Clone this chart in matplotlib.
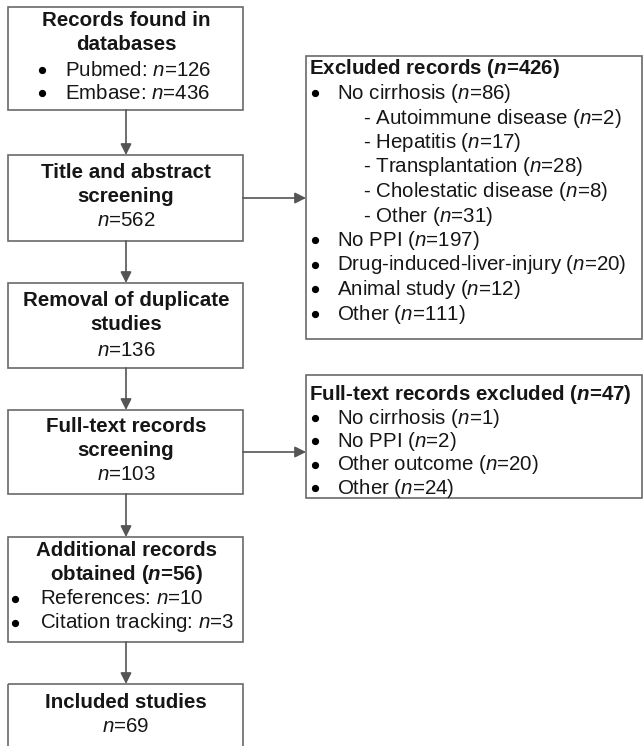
"""
Flow diagram of study selection (PRISMA style)
"""

import matplotlib
matplotlib.use("Agg")
import matplotlib.pyplot as plt
from matplotlib.patches import Rectangle, FancyArrowPatch

plt.rcParams["font.family"] = ["Liberation Sans", "DejaVu Sans"]
plt.rcParams["mathtext.fontset"] = "custom"
plt.rcParams["mathtext.rm"] = "Liberation Sans"
plt.rcParams["mathtext.it"] = "Liberation Sans:italic"
plt.rcParams["mathtext.bf"] = "Liberation Sans:bold"
plt.rcParams["mathtext.bfit"] = "Liberation Sans:italic:bold"

# data
db_sources = ["Pubmed", "Embase"]
db_counts = [126, 436]
n_screened = 562
n_dedup = 136
n_fulltext = 103
n_included = 69

excl_total = 426
excl_reasons = ["No cirrhosis", "No PPI", "Drug-induced-liver-injury", "Animal study", "Other"]
excl_counts = [86, 197, 20, 12, 111]
cirrh_sub = ["Autoimmune disease", "Hepatitis", "Transplantation", "Cholestatic disease", "Other"]
cirrh_sub_counts = [2, 17, 28, 8, 31]

ft_excl_total = 47
ft_excl_reasons = ["No cirrhosis", "No PPI", "Other outcome", "Other"]
ft_excl_counts = [1, 2, 20, 24]

add_total = 56
add_sources = ["References", "Citation tracking"]
add_counts = [10, 3]

TXT = "#161616"
EDGE = "#6a6a6a"
FS = 14.8
LH = 24.5

N = r"$\mathit{n}$"
NB = r"$\mathbfit{n}$"

fig = plt.figure(figsize=(6.43, 7.46), dpi=100)
ax = fig.add_axes([0, 0, 1, 1])
ax.set_xlim(0, 643)
ax.set_ylim(746, 0)
ax.axis("off")


def box(x0, y0, x1, y1):
    ax.add_patch(Rectangle((x0, y0), x1 - x0, y1 - y0, fill=False,
                           edgecolor=EDGE, linewidth=1.2, clip_on=False))


def arrow(p0, p1):
    ax.add_patch(FancyArrowPatch(p0, p1, arrowstyle="-|>,head_length=0.6,head_width=0.3",
                                 mutation_scale=11, color="#555555", linewidth=1.2,
                                 shrinkA=0, shrinkB=0))


def ctext(y, s, bold=False):
    ax.text(126, y, s, ha="center", va="center", fontsize=FS, color=TXT,
            fontweight="bold" if bold else "normal")


def ltext(x, y, s, bold=False):
    ax.text(x, y, s, ha="left", va="center", fontsize=FS, color=TXT,
            fontweight="bold" if bold else "normal")


def bullet(x, y):
    ax.plot([x], [y - 0.5], "o", markersize=4.2, color="#000000")


# left column
L, R = 8, 243
boxes_y = [(7, 110), (155, 241), (283, 368), (410, 494), (537, 642), (684, 770)]
for y0, y1 in boxes_y:
    box(L, y0, R, y1)
for (a0, a1), (b0, b1) in zip(boxes_y[:-1], boxes_y[1:]):
    arrow((126, a1), (126, b0))

# records found
ctext(20, "Records found in", bold=True)
ctext(45, "databases", bold=True)
for i, (src, c) in enumerate(zip(db_sources, db_counts)):
    y = 70 + i * 23.5
    bullet(42, y)
    ltext(65, y, f"{src}: {N}={c}")

ctext(172, "Title and abstract", bold=True)
ctext(196, "screening", bold=True)
ctext(220, f"{N}={n_screened}")

ctext(300, "Removal of duplicate", bold=True)
ctext(325, "studies", bold=True)
ctext(350, f"{N}={n_dedup}")

ctext(427, "Full-text records", bold=True)
ctext(451, "screening", bold=True)
ctext(475, f"{N}={n_fulltext}")

ctext(551, "Additional records", bold=True)
ctext(575, f"obtained ({NB}={add_total})", bold=True)
for i, (src, c) in enumerate(zip(add_sources, add_counts)):
    y = 599 + i * 24
    bullet(15, y)
    ltext(40, y, f"{src}: {N}={c}")

ctext(702, "Included studies", bold=True)
ctext(727, f"{N}={n_included}")

# right column: excluded after screening
RX0, RX1 = 306, 642
box(RX0, 56, RX1, 339)
arrow((R, 198), (RX0, 198))
ltext(309, 69, f"Excluded records ({NB}={excl_total})", bold=True)
y = 69 + LH
bullet(315, y)
ltext(337, y, f"{excl_reasons[0]} ({N}={excl_counts[0]})")
for s, c in zip(cirrh_sub, cirrh_sub_counts):
    y += LH
    ltext(363, y, f"- {s} ({N}={c})")
for s, c in zip(excl_reasons[1:], excl_counts[1:]):
    y += LH
    bullet(315, y)
    ltext(337, y, f"{s} ({N}={c})")

# right column: full-text exclusions
box(RX0, 375, RX1, 498)
arrow((R, 452), (RX0, 452))
ltext(309, 395, f"Full-text records excluded ({NB}={ft_excl_total})", bold=True)
for i, (s, c) in enumerate(zip(ft_excl_reasons, ft_excl_counts)):
    y = 418 + i * 23.5
    bullet(315, y)
    ltext(337, y, f"{s} ({N}={c})")

fig.savefig("out.png", dpi=100)
